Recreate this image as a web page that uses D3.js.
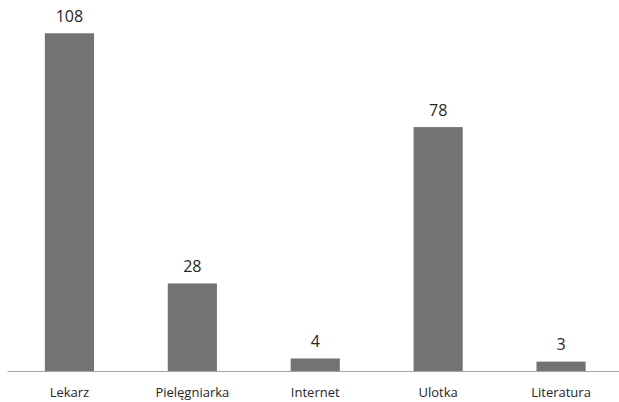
<!DOCTYPE html>
<html>
<head>
<meta charset="utf-8">
<script src="https://cdn.jsdelivr.net/npm/d3@7"></script>
<style>
  html, body { margin: 0; padding: 0; background: #fff; }
  svg { display: block; }
  text { font-family: "Open Sans", sans-serif; fill: #262626; }
</style>
</head>
<body>
<svg id="chart" width="619" height="402"></svg>
<script>
// Sources of information
const categories = ["Lekarz", "Pielęgniarka", "Internet", "Ulotka", "Literatura"];
const counts = [108, 28, 4, 78, 3];

const svg = d3.select("#chart");
const baseY = 371;

const x = d3.scaleBand()
  .domain(categories)
  .range([8, 622.5])
  .paddingInner(0.6)
  .paddingOuter(0.3);

const y = d3.scaleLinear()
  .domain([0, 108])
  .range([baseY, 33.3]);

const data = categories.map((c, i) => ({ cat: c, v: counts[i] }));

svg.append("g").selectAll("rect")
  .data(data)
  .join("rect")
  .attr("x", d => x(d.cat))
  .attr("y", d => y(d.v))
  .attr("width", x.bandwidth())
  .attr("height", d => baseY - y(d.v))
  .attr("fill", "#737373");

// Baseline axis
svg.append("line")
  .attr("x1", 7.5).attr("x2", 619)
  .attr("y1", baseY + 0.5).attr("y2", baseY + 0.5)
  .attr("stroke", "#a6a6a6")
  .attr("stroke-width", 1);

// Value labels
svg.append("g").selectAll("text")
  .data(data)
  .join("text")
  .attr("x", d => x(d.cat) + x.bandwidth() / 2)
  .attr("y", d => y(d.v) - 11.5)
  .attr("text-anchor", "middle")
  .attr("font-size", 16)
  .text(d => d.v);

// Category labels
svg.append("g").selectAll("text")
  .data(categories)
  .join("text")
  .attr("x", d => x(d) + x.bandwidth() / 2)
  .attr("y", 396.5)
  .attr("text-anchor", "middle")
  .attr("font-size", 13)
  .text(d => d);
</script>
</body>
</html>
